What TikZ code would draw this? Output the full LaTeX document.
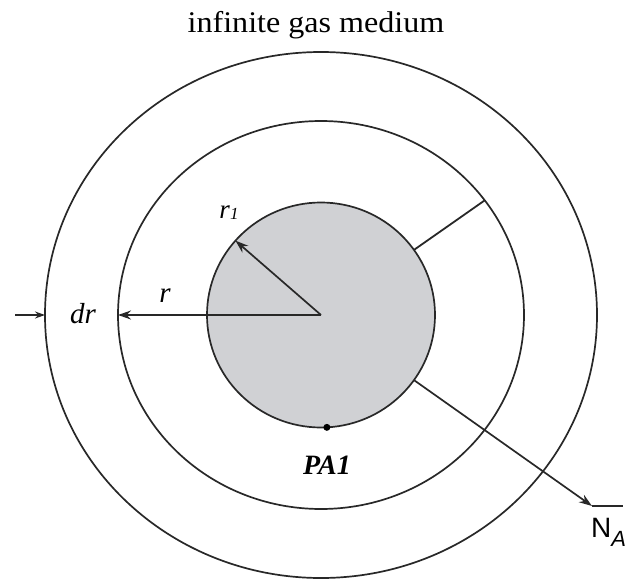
\documentclass[tikz,border=0pt]{standalone}
\usepackage{fontspec}
\setmainfont{Liberation Serif}
\setsansfont{Liberation Sans}
\usetikzlibrary{shapes.geometric,arrows.meta}
\definecolor{innergray}{RGB}{208,209,212}
\definecolor{ink}{RGB}{40,40,40}
\tikzset{
  ring/.style={ellipse, draw=ink, line width=1.7pt, inner sep=0pt, outer sep=0pt},
  arr/.style={draw=ink, line width=1.7pt, -{Stealth[length=13pt,width=9pt]}},
  smallarr/.style={draw=ink, line width=1.5pt, -{Stealth[length=10pt,width=7pt]}},
  plain/.style={draw=ink, line width=1.8pt},
  lbl/.style={font=\fontsize{29}{32}\selectfont\itshape, inner sep=0pt},
  dotmark/.style={circle, fill=black, inner sep=0pt, minimum size=7pt}
}
\begin{document}
\begin{tikzpicture}[x=1pt,y=-1pt]
\useasboundingbox (0,0) rectangle (630,581);
\coordinate (c) at (321,315);
\node[ring, minimum width=552pt, minimum height=526pt] (outer) at (c) {};
\node[ring, minimum width=406pt, minimum height=388pt] (middle) at (c) {};
\node[ring, fill=innergray, minimum width=228pt, minimum height=225pt] (inner) at (c) {};
% title
\node[font=\fontsize{30}{34}\selectfont, xscale=1.07, inner sep=0pt, anchor=base] (title) at (316,32) {infinite gas medium};
% r1 arrow
\draw[arr] (c) -- (inner.139);
\node[lbl, font=\fontsize{27}{30}\selectfont\itshape, anchor=base] (r1) at (229,218) {r\raisebox{-1pt}{\fontsize{17}{19}\selectfont 1}};
% r arrow
\draw[arr] (c) -- (middle.180);
\node[lbl, anchor=base] (rlab) at (165,302) {r};
% dr
\coordinate (drs) at (15,315);
\draw[smallarr] (drs) -- (outer.180);
\node[lbl, anchor=base] (drlab) at (83,323) {dr};
% radial line
\draw[plain] (inner.35) -- (middle.35);
% N_A arrow
\coordinate (natip) at (592,506);
\coordinate (naend) at (623,506);
\draw[arr] (inner.-35) -- (natip);
\draw[plain] (natip) -- (naend);
\node[inner sep=0pt, anchor=base west] (na) at (591,537) {\fontsize{28}{32}\selectfont\sffamily N\raisebox{-9pt}{\fontsize{22}{26}\selectfont\itshape A}};
% PA1
\node[dotmark] (pdot) at (inner.-87) {};
\node[lbl, font=\fontsize{28}{32}\selectfont\itshape\bfseries, anchor=base] (pa1) at (327,474) {PA1};
\end{tikzpicture}
\end{document}
